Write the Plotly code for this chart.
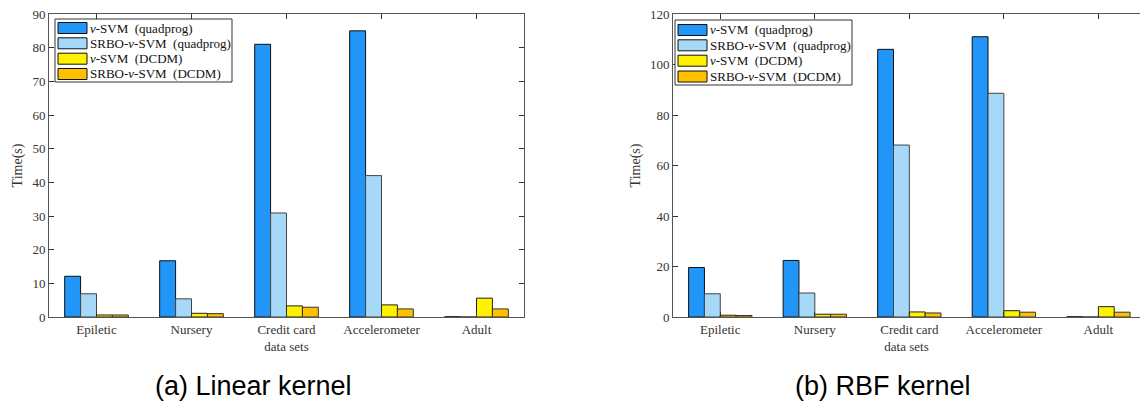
import plotly.graph_objects as go

categories = ["Epiletic", "Nursery", "Credit card", "Accelerometer", "Adult"]
series_names = ["<i>ν</i>-SVM  (quadprog)", "SRBO-<i>ν</i>-SVM  (quadprog)",
                "<i>ν</i>-SVM  (DCDM)", "SRBO-<i>ν</i>-SVM  (DCDM)"]

linear_nu_qp = [12.1, 16.7, 81.0, 85.0, 0.05]
linear_srbo_qp = [6.9, 5.4, 30.9, 42.0, 0.05]
linear_nu_dcdm = [0.6, 1.1, 3.3, 3.6, 5.6]
linear_srbo_dcdm = [0.6, 1.0, 2.9, 2.4, 2.4]

rbf_nu_qp = [19.6, 22.4, 106.0, 111.0, 0.05]
rbf_srbo_qp = [9.2, 9.5, 68.1, 88.6, 0.05]
rbf_nu_dcdm = [0.7, 1.1, 2.0, 2.5, 4.1]
rbf_srbo_dcdm = [0.6, 1.1, 1.6, 1.9, 1.9]

linear_ticks = [0, 10, 20, 30, 40, 50, 60, 70, 80, 90]
rbf_ticks = [0, 20, 40, 60, 80, 100, 120]

colors = ["#2196F8", "#A6D8F7", "#FFF200", "#FFC000"]
edge_colors = ["#111111", "#444444", "#222222", "#333333"]

W, H = 1140, 402
fig = go.Figure()

linear = [linear_nu_qp, linear_srbo_qp, linear_nu_dcdm, linear_srbo_dcdm]
rbf = [rbf_nu_qp, rbf_srbo_qp, rbf_nu_dcdm, rbf_srbo_dcdm]

for i in range(4):
    fig.add_trace(go.Bar(x=categories, y=linear[i], name=series_names[i],
                         marker=dict(color=colors[i], line=dict(color=edge_colors[i], width=1)),
                         xaxis="x", yaxis="y", showlegend=False, offsetgroup=str(i)))
for i in range(4):
    fig.add_trace(go.Bar(x=categories, y=rbf[i], name=series_names[i],
                         marker=dict(color=colors[i], line=dict(color=edge_colors[i], width=1)),
                         xaxis="x2", yaxis="y2", showlegend=False, offsetgroup=str(i)))

serif = "Liberation Serif, Times New Roman, serif"
axis_col = "#555555"
tick_font = dict(family=serif, size=13, color="#333333")

def xaxis_cfg(dom, rng):
    return dict(domain=dom, range=rng, type="category", showline=True, linecolor=axis_col,
                linewidth=1, mirror="ticks", ticks="inside", ticklen=5, tickcolor="#333333",
                tickfont=tick_font, automargin=False, showgrid=False, zeroline=False,
                title=dict(text="data sets", font=dict(family=serif, size=13, color="#333333"),
                           standoff=6))

def yaxis_cfg(anchor, rng, ticks, mirror):
    return dict(domain=[1 - 317 / H, 1 - 14 / H], range=rng, tickvals=ticks, anchor=anchor,
                showline=True, linecolor=axis_col, linewidth=1, mirror=mirror,
                ticks="inside", ticklen=5, tickcolor="#333333",
                tickfont=dict(family=serif, size=13, color="#333333"),
                automargin=False, showgrid=False, zeroline=False,
                title=dict(text="Time(s)", font=dict(family=serif, size=14, color="#333333"),
                           standoff=6))

# manual legends (box, swatches, labels) in pixel-derived paper coords
shapes = []
annotations = []

def add_legend(x0, y0, x1, y1, sw_x0, sw_x1, row_centers, text_x):
    shapes.append(dict(type="rect", xref="paper", yref="paper",
                       x0=x0 / W, x1=x1 / W, y0=1 - y1 / H, y1=1 - y0 / H,
                       line=dict(color="#333333", width=1), fillcolor="white", layer="above"))
    for i, yc in enumerate(row_centers):
        shapes.append(dict(type="rect", xref="paper", yref="paper",
                           x0=sw_x0 / W, x1=sw_x1 / W, y0=1 - (yc + 5.5) / H, y1=1 - (yc - 5.5) / H,
                           line=dict(color="#111111", width=1), fillcolor=colors[i], layer="above"))
        annotations.append(dict(text=series_names[i], x=text_x / W, y=1 - yc / H,
                                xref="paper", yref="paper", xanchor="left", yanchor="middle",
                                showarrow=False,
                                font=dict(family=serif, size=13, color="#111111")))

add_legend(55, 19, 232, 82, 58, 87, [28, 43.3, 58.7, 74], 88)
add_legend(675, 20, 852, 85, 678, 707, [30, 45.3, 60.7, 76.5], 708)

annotations += [
    dict(text="(a) Linear kernel", x=253 / W, y=1 - 386 / H, xref="paper", yref="paper",
         xanchor="center", yanchor="middle", showarrow=False,
         font=dict(family="Liberation Sans, Arial, sans-serif", size=27, color="#000000")),
    dict(text="(b) RBF kernel", x=883 / W, y=1 - 386 / H, xref="paper", yref="paper",
         xanchor="center", yanchor="middle", showarrow=False,
         font=dict(family="Liberation Sans, Arial, sans-serif", size=27, color="#000000")),
]

fig.update_layout(
    width=W, height=H, margin=dict(l=0, r=0, t=0, b=0),
    paper_bgcolor="white", plot_bgcolor="white",
    barmode="group", bargap=0.33, bargroupgap=0,
    xaxis=xaxis_cfg([49 / W, 524 / W], [-0.5, 4.5]),
    yaxis=yaxis_cfg("x", [0, 90], linear_ticks, "ticks"),
    xaxis2=xaxis_cfg([673 / W, 1.0], [-0.5, 4.44]),
    yaxis2=yaxis_cfg("x2", [0, 120], rbf_ticks, False),
    shapes=shapes,
    annotations=annotations,
)

fig.write_html("out.html")
